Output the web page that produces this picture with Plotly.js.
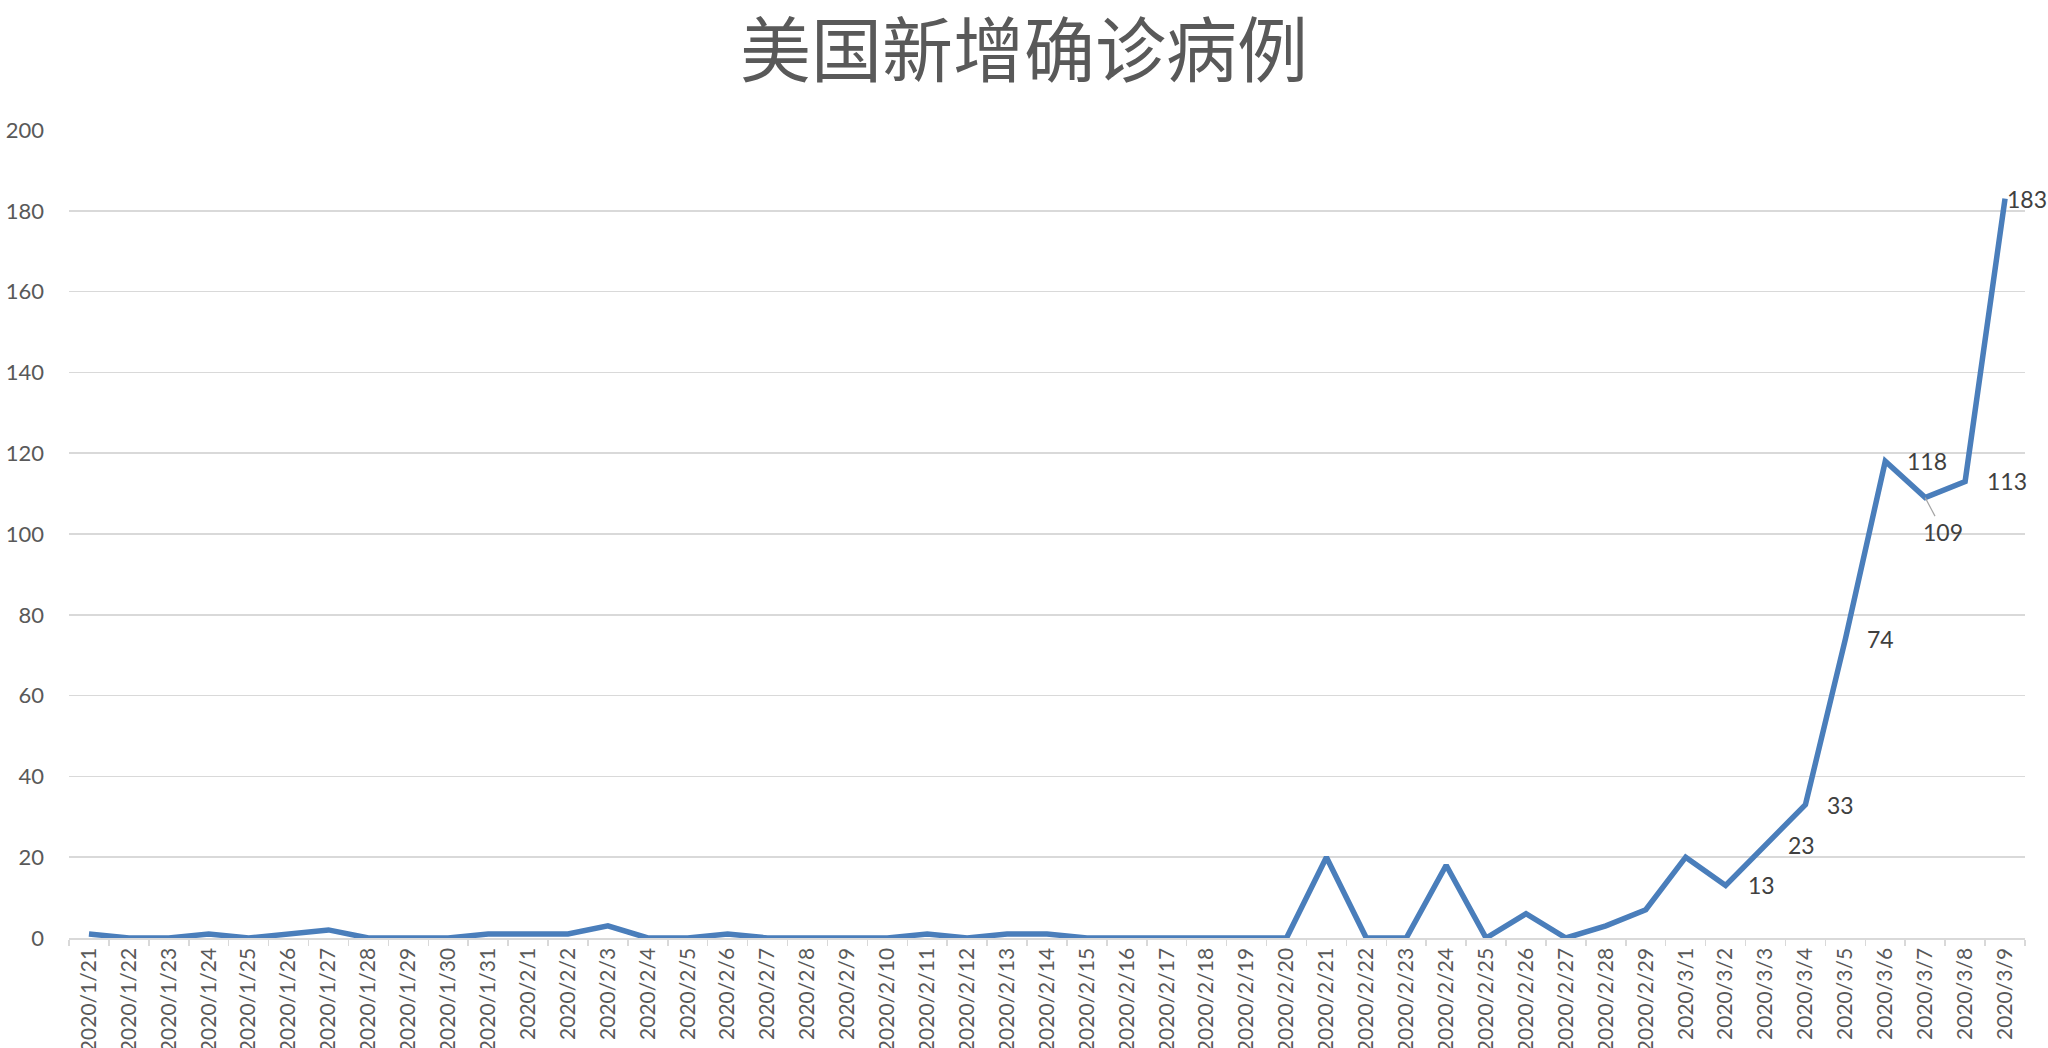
<!DOCTYPE html>
<html>
<head>
<meta charset="utf-8">
<script src="https://cdn.plot.ly/plotly-3.0.1.min.js"></script>
<style>
  html, body { margin: 0; padding: 0; background: #fff; }
  #graph { width: 2048px; height: 1048px; }
</style>
</head>
<body>
<div id="graph"></div>
<script>
// 美国新增确诊病例 2020/1/21 - 2020/3/9
var dates = [
  '2020/1/21','2020/1/22','2020/1/23','2020/1/24','2020/1/25','2020/1/26','2020/1/27',
  '2020/1/28','2020/1/29','2020/1/30','2020/1/31','2020/2/1','2020/2/2','2020/2/3',
  '2020/2/4','2020/2/5','2020/2/6','2020/2/7','2020/2/8','2020/2/9','2020/2/10',
  '2020/2/11','2020/2/12','2020/2/13','2020/2/14','2020/2/15','2020/2/16','2020/2/17',
  '2020/2/18','2020/2/19','2020/2/20','2020/2/21','2020/2/22','2020/2/23','2020/2/24',
  '2020/2/25','2020/2/26','2020/2/27','2020/2/28','2020/2/29','2020/3/1','2020/3/2',
  '2020/3/3','2020/3/4','2020/3/5','2020/3/6','2020/3/7','2020/3/8','2020/3/9'
];

var newCases = [
  1, 0, 0, 1, 0, 1, 2,
  0, 0, 0, 1, 1, 1, 3,
  0, 0, 1, 0, 0, 0, 0,
  1, 0, 1, 1, 0, 0, 0,
  0, 0, 0, 20, 0, 0, 18,
  0, 6, 0, 3, 7, 20, 13,
  23, 33, 74, 118, 109, 113, 183
];

// dates that carry a data label
var labelledDates = ['2020/3/2','2020/3/3','2020/3/4','2020/3/5','2020/3/6','2020/3/7','2020/3/8','2020/3/9'];

var yTicks = [0, 20, 40, 60, 80, 100, 120, 140, 160, 180, 200];

var trace1 = {
  x: dates,
  y: newCases,
  mode: 'lines',
  type: 'scatter',
  name: '新增确诊',
  line: {
    color: '#4a7ebb',
    width: 5.5
  },
  hoverinfo: 'x+y'
};

var labelFont = { family: 'Lato, "Liberation Sans", sans-serif', size: 23, color: '#404040' };

var annotations = labelledDates.map(function (d) {
  var v = newCases[dates.indexOf(d)];
  if (d === '2020/3/7') {
    // label pulled below the point with a leader line
    return {
      x: d, y: v, xref: 'x', yref: 'y',
      text: String(v), font: labelFont,
      showarrow: true, arrowhead: 0, arrowwidth: 1.2, arrowcolor: '#a6a6a6',
      standoff: 0, ax: 18, ay: 34
    };
  }
  return {
    x: d, y: v, xref: 'x', yref: 'y',
    text: String(v), font: labelFont,
    showarrow: false, xanchor: 'left', yanchor: 'middle',
    xshift: d === '2020/3/9' ? 0 : 20, yshift: 0
  };
});

var layout = {
  width: 2048,
  height: 1048,
  showlegend: false,
  paper_bgcolor: '#ffffff',
  plot_bgcolor: '#ffffff',
  margin: { l: 69, r: 23, t: 130, b: 110 },
  title: {
    text: '美国新增确诊病例',
    font: { family: '"Noto Sans CJK SC", sans-serif', size: 71, color: '#595959' },
    x: 0.5, xref: 'container', xanchor: 'center',
    y: 0.951, yref: 'container', yanchor: 'middle'
  },
  xaxis: {
    type: 'category',
    range: [-0.5, dates.length - 0.5],
    tickangle: -90,
    tickson: 'boundaries',
    ticks: 'outside',
    ticklen: 6,
    tickcolor: '#d9d9d9',
    tickwidth: 1.5,
    showgrid: false,
    showline: true,
    linecolor: '#d9d9d9',
    linewidth: 1.5,
    tickfont: { family: 'Lato, "Liberation Sans", sans-serif', size: 21, color: '#595959' },
    fixedrange: true
  },
  yaxis: {
    range: [0, 200],
    tickvals: yTicks,
    ticktext: yTicks.map(String),
    showgrid: true,
    gridcolor: '#d9d9d9',
    gridwidth: 1.5,
    zeroline: false,
    showline: false,
    ticks: '',
    ticklabelstandoff: 24,
    tickfont: { family: 'Lato, "Liberation Sans", sans-serif', size: 22, color: '#595959' },
    fixedrange: true
  },
  annotations: annotations
};

Plotly.newPlot('graph', [trace1], layout, { displayModeBar: false, staticPlot: true });
</script>
</body>
</html>
